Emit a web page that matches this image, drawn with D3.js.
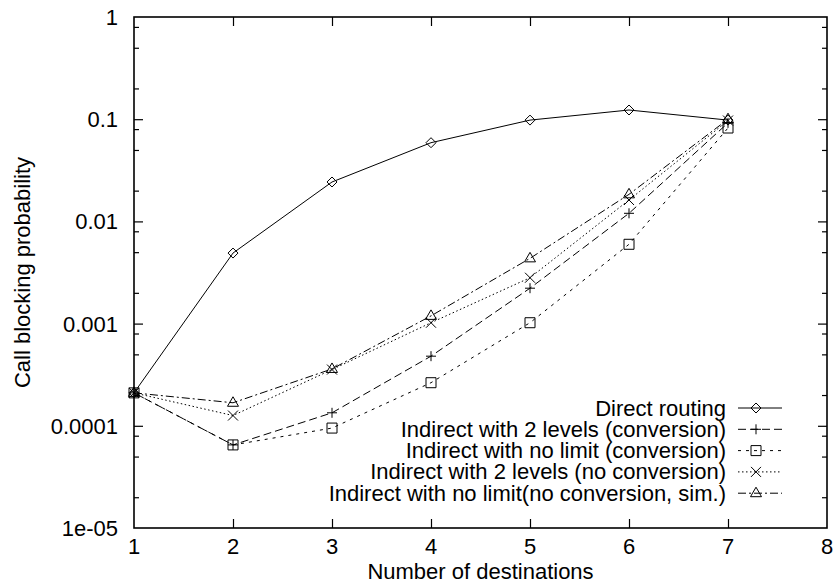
<!DOCTYPE html>
<html>
<head>
<meta charset="utf-8">
<script src="https://cdn.jsdelivr.net/npm/d3@7"></script>
<style>
  html, body { margin: 0; padding: 0; background: #fff; }
  svg { display: block; }
  text { font-family: "Liberation Sans", Arial, Helvetica, sans-serif; fill: #000; }
</style>
</head>
<body>
<svg id="chart" width="833" height="583"></svg>
<script>
// ---- data ----
const destinations = [1, 2, 3, 4, 5, 6, 7];
const directRouting      = [2.1e-4, 0.0049, 0.0243, 0.0589, 0.098, 0.123, 0.098];
const indirect2Conv      = [2.1e-4, 6.5e-5, 1.34e-4, 4.8e-4, 2.22e-3, 0.012, 0.092];
const indirectNoLimConv  = [2.1e-4, 6.5e-5, 9.5e-5, 2.64e-4, 1.02e-3, 5.97e-3, 0.082];
const indirect2NoConv    = [2.1e-4, 1.26e-4, 3.55e-4, 1.02e-3, 2.81e-3, 0.0162, 0.097];
const indirectNoLimSim   = [2.1e-4, 1.68e-4, 3.6e-4, 1.19e-3, 4.35e-3, 0.0184, 0.1];
const seriesNames = [
  "Direct routing",
  "Indirect with 2 levels (conversion)",
  "Indirect with no limit (conversion)",
  "Indirect with 2 levels (no conversion)",
  "Indirect with no limit(no conversion, sim.)"
];
const xTicks = [1, 2, 3, 4, 5, 6, 7, 8];
const yTicks = [1e-5, 1e-4, 1e-3, 0.01, 0.1, 1];
const yTickLabels = ["1e-05", "0.0001", "0.001", "0.01", "0.1", "1"];
const xLabel = "Number of destinations";
const yLabel = "Call blocking probability";

// ---- styles ----
const seriesValues = [directRouting, indirect2Conv, indirectNoLimConv, indirect2NoConv, indirectNoLimSim];
const dashes = [null, "8,4", "3,5", "1.5,2.5", "8,3,2,3"];
const markers = ["diamond", "plus", "square", "cross", "triangle"];

const svg = d3.select("#chart");
const L = 134, R = 827, T = 17, B = 528;
const x = d3.scaleLinear().domain([1, 8]).range([L, R]);
const y = d3.scaleLog().domain([1e-5, 1]).range([B, T]);

function markerPath(type, cx, cy) {
  const s = 5;
  switch (type) {
    case "diamond": return `M${cx},${cy - s}L${cx + s},${cy}L${cx},${cy + s}L${cx - s},${cy}Z`;
    case "plus": return `M${cx - s},${cy}H${cx + s}M${cx},${cy - s}V${cy + s}`;
    case "square": return `M${cx - s},${cy - s}H${cx + s}V${cy + s}H${cx - s}Z`;
    case "cross": return `M${cx - s},${cy - s}L${cx + s},${cy + s}M${cx + s},${cy - s}L${cx - s},${cy + s}`;
    case "triangle": return `M${cx},${cy - 6}L${cx + 5.5},${cy + 3.5}L${cx - 5.5},${cy + 3.5}Z`;
  }
}

// ---- axes (ticks via D3 axes, gnuplot style: inward, mirrored) ----
const minorY = [];
for (let e = -5; e < 0; e++) [2, 5, 8].forEach(m => minorY.push(m * Math.pow(10, e)));

const axisG = svg.append("g");
const styleAxis = g => {
  g.select(".domain").remove();
  g.selectAll(".tick line").attr("stroke", "#000").attr("stroke-width", 1.2);
};
axisG.append("g").attr("transform", `translate(0,${B})`)
  .call(d3.axisBottom(x).tickValues(xTicks.slice(1, -1)).tickSize(-9).tickFormat(""))
  .call(styleAxis);
axisG.append("g").attr("transform", `translate(0,${T})`)
  .call(d3.axisTop(x).tickValues(xTicks.slice(1, -1)).tickSize(-9).tickFormat(""))
  .call(styleAxis);
axisG.append("g").attr("transform", `translate(${L},0)`)
  .call(d3.axisLeft(y).tickValues(yTicks.slice(1, -1)).tickSize(-9).tickFormat(""))
  .call(styleAxis);
axisG.append("g").attr("transform", `translate(${R},0)`)
  .call(d3.axisRight(y).tickValues(yTicks.slice(1, -1)).tickSize(-9).tickFormat(""))
  .call(styleAxis);
axisG.append("g").attr("transform", `translate(${L},0)`)
  .call(d3.axisLeft(y).tickValues(minorY).tickSize(-5).tickFormat(""))
  .call(styleAxis);
axisG.append("g").attr("transform", `translate(${R},0)`)
  .call(d3.axisRight(y).tickValues(minorY).tickSize(-5).tickFormat(""))
  .call(styleAxis);

// tick labels
svg.append("g").selectAll("text").data(xTicks).join("text")
  .attr("x", d => x(d)).attr("y", B + 26)
  .attr("text-anchor", "middle").attr("font-size", 22)
  .text(d => d);
svg.append("g").selectAll("text").data(yTicks).join("text")
  .attr("x", 118).attr("y", d => y(d) + 8)
  .attr("text-anchor", "end").attr("font-size", 22)
  .text((d, i) => yTickLabels[i]);

// axis titles
svg.append("text").attr("x", (L + R) / 2).attr("y", 579)
  .attr("text-anchor", "middle").attr("font-size", 22).text(xLabel);
svg.append("text").attr("transform", `translate(30,${(T + B) / 2}) rotate(-90)`)
  .attr("text-anchor", "middle").attr("font-size", 22).text(yLabel);

// ---- series ----
const line = d3.line().x((d, i) => x(destinations[i])).y(d => y(d));
const plotG = svg.append("g");
seriesValues.forEach((vals, si) => {
  plotG.append("path").datum(vals)
    .attr("d", line)
    .attr("fill", "none").attr("stroke", "#000").attr("stroke-width", 1)
    .attr("stroke-dasharray", dashes[si]);
  plotG.append("g").selectAll("path").data(vals).join("path")
    .attr("d", (d, i) => markerPath(markers[si], x(destinations[i]), y(d)))
    .attr("fill", "none").attr("stroke", "#000").attr("stroke-width", 1);
});

// ---- legend ----
const legY0 = 408, legDy = 21.3;
const legG = svg.append("g");
seriesNames.forEach((name, si) => {
  const ly = legY0 + si * legDy;
  legG.append("text").attr("x", 726).attr("y", ly + 7.5)
    .attr("text-anchor", "end").attr("font-size", 22).text(name);
  legG.append("line").attr("x1", 738).attr("x2", 782).attr("y1", ly).attr("y2", ly)
    .attr("stroke", "#000").attr("stroke-width", 1)
    .attr("stroke-dasharray", dashes[si]);
  legG.append("path").attr("d", markerPath(markers[si], 756, ly))
    .attr("fill", "none").attr("stroke", "#000").attr("stroke-width", 1);
});

// ---- border ----
svg.append("rect").attr("x", L).attr("y", T).attr("width", R - L).attr("height", B - T)
  .attr("fill", "none").attr("stroke", "#000").attr("stroke-width", 1.6);
</script>
</body>
</html>
